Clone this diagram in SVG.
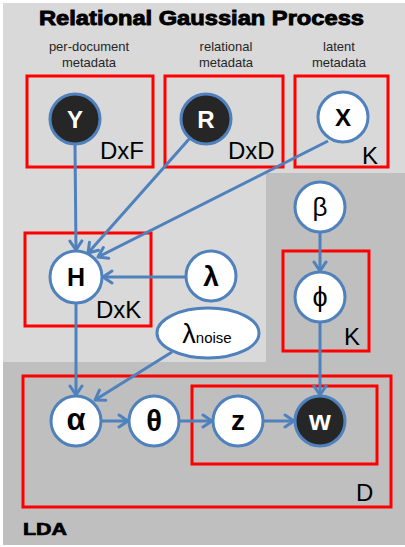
<svg xmlns="http://www.w3.org/2000/svg" width="405" height="547" viewBox="0 0 405 547">
<defs>
<style>
.box{fill:none;stroke:#ff0000;stroke-width:3}
.nd{fill:#ffffff;stroke:#4f81bd;stroke-width:3}
.dk{fill:#262626;stroke:#4f81bd;stroke-width:3}
.lb{font-family:"Liberation Sans",Arial,sans-serif;text-anchor:middle}
.b{font-weight:bold}
.pl{font-family:"Liberation Sans",Arial,sans-serif;font-size:24px;fill:#000}
.sub{font-family:"Liberation Sans",Arial,sans-serif;font-size:13px;fill:#262626;text-anchor:middle}
.ar{fill:none;stroke:#4f81bd;stroke-width:3;marker-end:url(#ah)}
</style>
<marker id="ah" markerUnits="userSpaceOnUse" markerWidth="14" markerHeight="16" refX="11" refY="7" orient="auto" viewBox="0 0 14 14">
<path d="M2,1 L11,7 L2,13" fill="none" stroke="#4f81bd" stroke-width="3" stroke-linecap="round" stroke-linejoin="round"/>
</marker>
</defs>
<rect x="3" y="3" width="402" height="542" fill="#bfbfbf"/>
<path d="M3,3 H405 V173 H266 V362 H3 Z" fill="#d9d9d9"/>
<text x="201.5" y="25" class="lb b" font-size="20.5" textLength="325" lengthAdjust="spacingAndGlyphs" stroke="#000" stroke-width="0.9">Relational Gaussian Process</text>
<text x="89" y="51" class="sub">per-document</text>
<text x="89" y="67" class="sub">metadata</text>
<text x="226" y="51" class="sub">relational</text>
<text x="226" y="67" class="sub">metadata</text>
<text x="339" y="51" class="sub">latent</text>
<text x="339" y="67" class="sub">metadata</text>
<g id="plates">
<rect class="box" x="27" y="76" width="126" height="91"/>
<rect class="box" x="165" y="76" width="118" height="91"/>
<rect class="box" x="295" y="76" width="93" height="91"/>
<rect class="box" x="25" y="233" width="126" height="93"/>
<rect class="box" x="283" y="251" width="86" height="100"/>
<rect class="box" x="23" y="376" width="368" height="131"/>
<rect class="box" x="192" y="386" width="185" height="78"/>
<text class="pl" x="100" y="159">DxF</text>
<text class="pl" x="228" y="159">DxD</text>
<text class="pl" x="362" y="164">K</text>
<text class="pl" x="96" y="318">DxK</text>
<text class="pl" x="344" y="345">K</text>
<text class="pl" x="356" y="501">D</text>
</g>
<text x="23" y="535" font-family="Liberation Sans,Arial,sans-serif" font-weight="bold" font-size="17" textLength="44" lengthAdjust="spacingAndGlyphs" stroke="#000" stroke-width="0.7">LDA</text>
<g id="connectors">
<line class="ar" x1="75" y1="144" x2="76" y2="250"/>
<line class="ar" x1="190" y1="138" x2="88" y2="253"/>
<line class="ar" x1="328" y1="141" x2="98" y2="257"/>
<line class="ar" x1="185" y1="277" x2="103" y2="277"/>
<line class="ar" x1="320" y1="232" x2="320" y2="271"/>
<line class="ar" x1="76" y1="303" x2="76" y2="395"/>
<line class="ar" x1="172" y1="352" x2="95" y2="400"/>
<line class="ar" x1="320" y1="322" x2="320" y2="395"/>
<line class="ar" x1="101" y1="421" x2="128" y2="421"/>
<line class="ar" x1="179" y1="421" x2="212" y2="421"/>
<line class="ar" x1="263" y1="421" x2="294" y2="421"/>
</g>
<g id="Y"><circle class="dk" cx="75" cy="119" r="25"/><text class="lb b" x="75" y="128" font-size="24" fill="#fff">Y</text></g>
<g id="R"><circle class="dk" cx="206" cy="119" r="25"/><text class="lb b" x="206" y="128" font-size="24" fill="#fff">R</text></g>
<g id="X"><circle class="nd" cx="343" cy="117" r="25"/><text class="lb b" x="343" y="126" font-size="24" fill="#000">X</text></g>
<g id="H"><circle class="nd" cx="76" cy="277" r="26"/><text class="lb b" x="76" y="286" font-size="25" fill="#000">H</text></g>
<g id="lambda"><circle class="nd" cx="211" cy="276" r="25"/><text class="lb b" x="211" y="286" font-size="28" fill="#000">λ</text></g>
<g id="lambda_noise"><ellipse class="nd" cx="208" cy="333" rx="51" ry="25"/><text x="207" y="343" class="lb" fill="#000"><tspan font-size="27">λ</tspan><tspan font-size="15">noise</tspan></text></g>
<g id="beta"><circle class="nd" cx="320" cy="207" r="25"/><text class="lb" x="320" y="216" font-size="26" fill="#000">β</text></g>
<g id="phi"><circle class="nd" cx="320" cy="297" r="25"/><text class="lb" x="320" y="306" font-size="27" fill="#000">ϕ</text></g>
<g id="alpha"><circle class="nd" cx="76" cy="421" r="25"/><text class="lb b" x="76" y="430" font-size="31" fill="#000">α</text></g>
<g id="theta"><circle class="nd" cx="154" cy="421" r="25"/><text class="lb b" x="154" y="431" font-size="29" fill="#000">θ</text></g>
<g id="z"><circle class="nd" cx="238" cy="421" r="25"/><text class="lb b" x="238" y="430" font-size="28" fill="#000">z</text></g>
<g id="w"><circle class="dk" cx="320" cy="421" r="25"/><text class="lb b" x="320" y="430" font-size="28" fill="#fff">w</text></g>
</svg>
